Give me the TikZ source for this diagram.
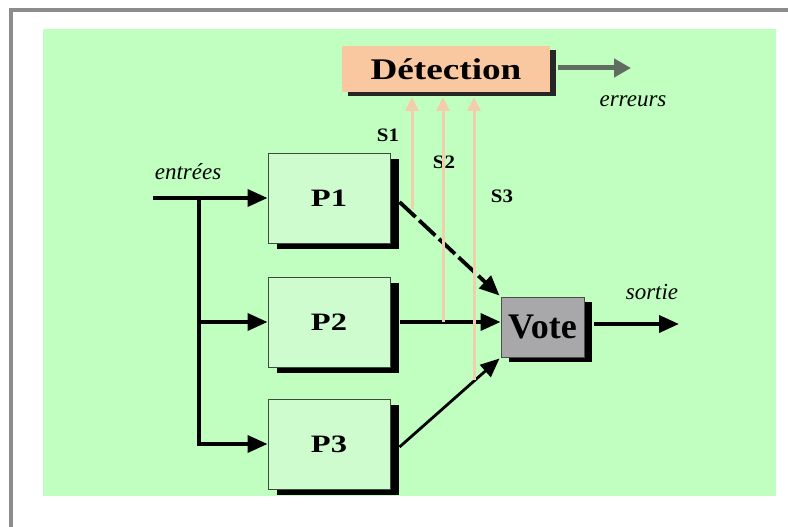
\documentclass[tikz,border=0pt]{standalone}
\usepackage{fontspec}
\usepackage{graphicx}
\setmainfont{Liberation Serif}
\usetikzlibrary{arrows.meta,shadows,calc}
\definecolor{bggreen}{RGB}{192,255,192}
\definecolor{boxgreen}{RGB}{206,252,206}
\definecolor{boxline}{RGB}{60,75,60}
\definecolor{peach}{RGB}{250,200,160}
\definecolor{sline}{RGB}{242,206,172}
\definecolor{votegray}{RGB}{168,168,170}
\definecolor{errgray}{RGB}{95,108,95}
\definecolor{framegray}{RGB}{140,140,140}
\tikzset{
  procbox/.style={draw=boxline, line width=1pt, fill=boxgreen, minimum width=122pt, minimum height=90pt, inner sep=0pt,
    drop shadow={shadow xshift=9pt, shadow yshift=-6pt, fill=black, opacity=1},
    font=\fontsize{25}{30}\selectfont\bfseries},
  detbox/.style={fill=peach, minimum width=208pt, minimum height=46pt, inner sep=0pt,
    drop shadow={shadow xshift=6pt, shadow yshift=-4pt, fill=black!85, opacity=1},
    font=\fontsize{30}{34}\selectfont\bfseries},
  votebox/.style={draw=black!70, line width=1pt, fill=votegray, minimum width=83pt, minimum height=60pt, inner sep=0pt,
    drop shadow={shadow xshift=8pt, shadow yshift=-5pt, fill=black, opacity=1},
    font=\fontsize{36}{40}\selectfont\bfseries},
  flow/.style={line width=3.8pt, -{Triangle[length=20pt,width=17pt]}},
  thinflow/.style={line width=2.8pt, -{Triangle[length=19pt,width=16pt]}},
  sarrow/.style={draw=sline, line width=3pt, -{Triangle[length=14pt,width=13pt]}, sline},
  errarrow/.style={draw=errgray, line width=5pt, -{Triangle[length=17pt,width=18pt]}, errgray},
  italab/.style={font=\fontsize{23}{26}\selectfont\itshape, inner sep=0pt},
  slab/.style={font=\fontsize{19}{22}\selectfont\bfseries, inner sep=0pt},
}
\begin{document}
\begin{tikzpicture}[x=1pt,y=-1pt]
\useasboundingbox (0,0) rectangle (788,527);
% frame and background
\draw[framegray, line width=4pt] (11,527) -- (11,10) -- (788,10);
\fill[bggreen] (43,29) rectangle (776,496);

% nodes
\node[procbox] (P1) at (329,198) {\scalebox{1.3}[1]{P1}};
\node[procbox] (P2) at (329,322) {\scalebox{1.3}[1]{P2}};
\node[procbox] (P3) at (329,444) {\scalebox{1.3}[1]{P3}};
\node[votebox] (V) at (542.5,327) {Vote};
\node[detbox] (D) at (446,69) {\scalebox{1.24}[1]{Détection}};

% labels
\node[italab] (lin) at (188,172) {entrées};
\node[italab] (lerr) at (633,101) {erreurs};
\node[italab] (lout) at (652,292) {sortie};
\node[slab] (ls1) at (388,135) {\scalebox{1.1}[1]{S1}};
\node[slab] (ls2) at (444,162) {\scalebox{1.1}[1]{S2}};
\node[slab] (ls3) at (502,196) {\scalebox{1.1}[1]{S3}};

% coordinates
\coordinate (in) at (153,198);
\coordinate (j) at (199,198);
\coordinate (p1o) at ($(P1.east)+(9,4)$);
\coordinate (p2o) at ($(P2.east)+(9,0)$);
\coordinate (p3o) at ($(P3.east)+(9,3)$);
\coordinate (outend) at (679,324);
\coordinate (errstart) at (558,68);
\coordinate (errend) at (631,68);
\coordinate (detb) at (0,97);
\coordinate (s1b) at (412,209);
\coordinate (s2b) at (443,322);
\coordinate (s3b) at (474,380);

% input arrows
\draw[flow] (in) -- (P1.west);
\draw[flow] (j) |- (P2.west);
\draw[flow] (j) |- (P3.west);

% process to vote
\draw[flow, dash pattern=on 22pt off 5pt] (p1o) -- ($(V.north west)+(-1,-1)$);
\draw[flow] (p2o) -- (p2o -| V.west);
\draw[thinflow] (p3o) -- ($(V.south west)+(-1,1)$);

% output
\draw[flow] ($(V.east)+(9,-3)$) -- (outend);

% signals to detection
\draw[sarrow] (s1b) -- (s1b |- detb);
\draw[sarrow] (s2b) -- (s2b |- detb);
\draw[sarrow] (s3b) -- (s3b |- detb);

% errors
\draw[errarrow] (errstart) -- (errend);
\end{tikzpicture}
\end{document}
